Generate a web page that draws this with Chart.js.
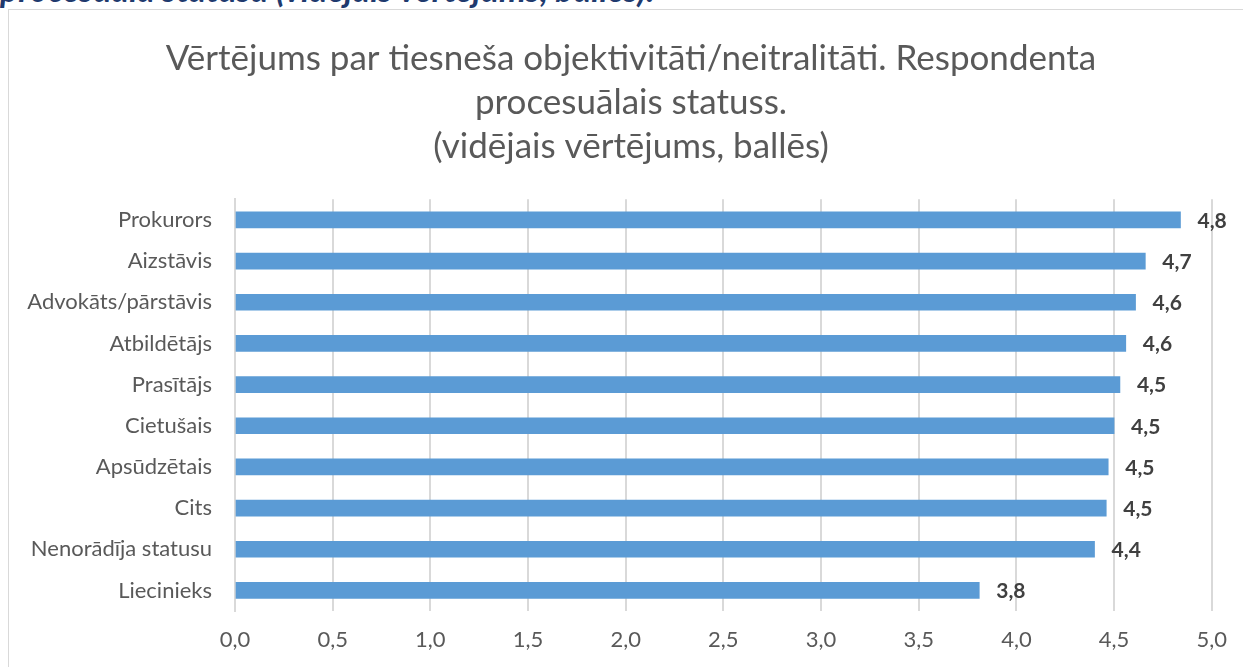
<!DOCTYPE html>
<html>
<head>
<meta charset="utf-8">
<script src="https://cdn.jsdelivr.net/npm/chart.js@4/dist/chart.umd.min.js"></script>
<style>
  html, body { margin: 0; padding: 0; background: #fff; overflow: hidden; }
  #head {
    position: absolute; left: 0; top: -32px;
    font-family: Lato, "Open Sans", sans-serif; font-style: italic; font-weight: bold;
    font-size: 34px; color: #1f3a6e; white-space: nowrap;
  }
  #frame {
    position: absolute; left: 8px; top: 9px; width: 1260px; height: 700px;
    border: 1px solid #d9d9d9;
  }
  #wrap { position: absolute; left: 0; top: 0; width: 1243px; height: 667px; }
</style>
</head>
<body>
<div id="head">procesuālā statusā (vidējais vērtējums, ballēs).</div>
<div id="frame"></div>
<div id="wrap"><canvas id="chart"></canvas></div>
<script>
const categories = [
  'Prokurors', 'Aizstāvis', 'Advokāts/pārstāvis', 'Atbildētājs', 'Prasītājs',
  'Cietušais', 'Apsūdzētais', 'Cits', 'Nenorādīja statusu', 'Liecinieks'
];
const scores = [4.84, 4.66, 4.61, 4.56, 4.53, 4.50, 4.47, 4.46, 4.40, 3.81];
const xTicks = [0, 0.5, 1, 1.5, 2, 2.5, 3, 3.5, 4, 4.5, 5];
const titleLines = [
  'Vērtējums par tiesneša objektivitāti/neitralitāti. Respondenta',
  'procesuālais statuss.',
  '(vidējais vērtējums, ballēs)'
];

const fmt = v => v.toFixed(1).replace('.', ',');
const FONT = 'Lato, "Open Sans", sans-serif';

// value labels to the right of each bar
const valueLabels = {
  id: 'valueLabels',
  afterLayout(chart) {
    // nudge the title a little right, the way the original sits
    if (chart.titleBlock) chart.titleBlock.left += 18;
  },
  afterDatasetsDraw(chart) {
    const ctx = chart.ctx;
    const meta = chart.getDatasetMeta(0);
    ctx.save();
    ctx.font = 'bold 21px ' + FONT;
    ctx.fillStyle = '#404040';
    ctx.textBaseline = 'middle';
    ctx.textAlign = 'left';
    meta.data.forEach((bar, i) => {
      ctx.fillText(fmt(scores[i]), bar.x + 17, bar.y + 1);
    });
    ctx.restore();
  }
};

new Chart(document.getElementById('chart'), {
  type: 'bar',
  data: {
    labels: categories,
    datasets: [{
      data: scores,
      backgroundColor: '#5b9bd5',
      barThickness: 16
    }]
  },
  options: {
    indexAxis: 'y',
    responsive: true,
    maintainAspectRatio: false,
    animation: false,
    layout: { padding: { left: 22, right: 21, top: 36, bottom: 16 } },
    plugins: {
      legend: { display: false },
      tooltip: { enabled: false },
      title: {
        display: true,
        text: titleLines,
        color: '#595959',
        font: { family: FONT, size: 35, weight: 'normal', lineHeight: 1.27 },
        padding: { top: 0, bottom: 30 }
      }
    },
    scales: {
      x: {
        min: 0, max: 5,
        afterBuildTicks: axis => { axis.ticks = xTicks.map(v => ({ value: v })); },
        afterFit: axis => { axis.height = 40; },
        grid: { color: '#d9d9d9', lineWidth: 2, drawTicks: false },
        border: { display: false },
        ticks: {
          color: '#595959',
          padding: 16,
          font: { family: FONT, size: 22 },
          callback: v => fmt(v)
        }
      },
      y: {
        grid: { display: false, drawTicks: false },
        border: { display: true, color: '#d9d9d9', width: 2 },
        afterFit: axis => { axis.width = 213; },
        ticks: {
          color: '#595959',
          padding: 23,
          font: { family: FONT, size: 22 }
        }
      }
    }
  },
  plugins: [valueLabels]
});
</script>
</body>
</html>
